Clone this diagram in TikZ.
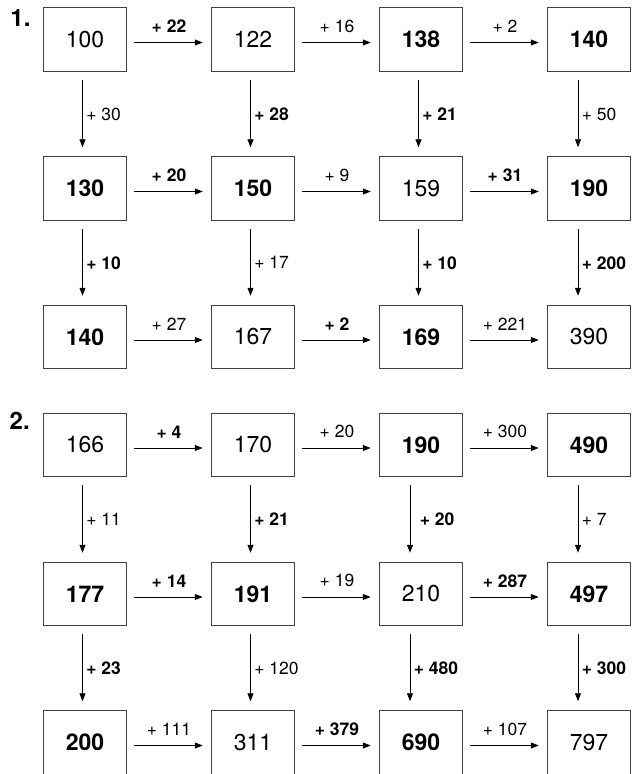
\documentclass[tikz,border=0pt]{standalone}
\usepackage{fontspec}
\setmainfont{TeX Gyre Heros}
\usepackage{tikz}
\usetikzlibrary{arrows.meta}
\tikzset{
  box/.style={draw=black!75, line width=1pt, minimum width=83.5pt, minimum height=63.5pt, inner sep=0pt, font=\fontsize{23}{23}\selectfont},
  bbox/.style={box, font=\fontsize{23}{23}\selectfont\bfseries},
  harr/.style={arrows={-Triangle[length=8pt,width=6pt]}, line width=0.9pt, shorten <=7pt, shorten >=8pt},
  varr/.style={arrows={-Triangle[length=8pt,width=6pt]}, line width=0.9pt, shorten <=8pt, shorten >=9pt},
  lab/.style={font=\fontsize{17.5}{17.5}\selectfont},
  blab/.style={font=\fontsize{17.5}{17.5}\selectfont\bfseries},
}
\begin{document}
\begin{tikzpicture}[x=1pt, y=-1pt]
\useasboundingbox (0,0) rectangle (633,774);
% part 1
\node [font=\fontsize{24}{24}\selectfont\bfseries] (n1) at (20.5,18) {1.};
\node [box] (A11) at (85,39.5) {100};
\node [box] (A12) at (253,39.5) {122};
\node [bbox] (A13) at (421,39.5) {138};
\node [bbox] (A14) at (589,39.5) {140};
\node [bbox] (A21) at (85,188.5) {130};
\node [bbox] (A22) at (253,188.5) {150};
\node [box] (A23) at (421,188.5) {159};
\node [bbox] (A24) at (589,188.5) {190};
\node [bbox] (A31) at (85,337) {140};
\node [box] (A32) at (253,337) {167};
\node [bbox] (A33) at (421,337) {169};
\node [box] (A34) at (589,337) {390};
\draw [harr] ([yshift=-3pt]A11.east) -- ([yshift=-3pt]A12.west) node [midway, above=6pt, blab] {+ 22};
\draw [harr] ([yshift=-3pt]A12.east) -- ([yshift=-3pt]A13.west) node [midway, above=6pt, lab] {+ 16};
\draw [harr] ([yshift=-3pt]A13.east) -- ([yshift=-3pt]A14.west) node [midway, above=6pt, lab] {+ 2};
\draw [harr] ([yshift=-3pt]A21.east) -- ([yshift=-3pt]A22.west) node [midway, above=6pt, blab] {+ 20};
\draw [harr] ([yshift=-3pt]A22.east) -- ([yshift=-3pt]A23.west) node [midway, above=6pt, lab] {+ 9};
\draw [harr] ([yshift=-3pt]A23.east) -- ([yshift=-3pt]A24.west) node [midway, above=6pt, blab] {+ 31};
\draw [harr] ([yshift=-3pt]A31.east) -- ([yshift=-3pt]A32.west) node [midway, above=6pt, lab] {+ 27};
\draw [harr] ([yshift=-3pt]A32.east) -- ([yshift=-3pt]A33.west) node [midway, above=6pt, blab] {+ 2};
\draw [harr] ([yshift=-3pt]A33.east) -- ([yshift=-3pt]A34.west) node [midway, above=6pt, lab] {+ 221};
\draw [varr] ([xshift=-2.5pt]A11.south) -- ([xshift=-2.5pt]A21.north) node [midway, right, lab] {+ 30};
\draw [varr] ([xshift=-2.5pt]A12.south) -- ([xshift=-2.5pt]A22.north) node [midway, right, blab] {+ 28};
\draw [varr] ([xshift=-2.5pt]A13.south) -- ([xshift=-2.5pt]A23.north) node [midway, right, blab] {+ 21};
\draw [varr] ([xshift=-11pt]A14.south) -- ([xshift=-11pt]A24.north) node [midway, right, lab] {+ 50};
\draw [varr] ([xshift=-2.5pt]A21.south) -- ([xshift=-2.5pt]A31.north) node [midway, right, blab] {+ 10};
\draw [varr] ([xshift=-2.5pt]A22.south) -- ([xshift=-2.5pt]A32.north) node [midway, right, lab] {+ 17};
\draw [varr] ([xshift=-2.5pt]A23.south) -- ([xshift=-2.5pt]A33.north) node [midway, right, blab] {+ 10};
\draw [varr] ([xshift=-11pt]A24.south) -- ([xshift=-11pt]A34.north) node [midway, right, blab] {+ 200};
% part 2
\node [font=\fontsize{24}{24}\selectfont\bfseries] (n2) at (19.7,421) {2.};
\node [box] (B11) at (85,445) {166};
\node [box] (B12) at (253,445) {170};
\node [bbox] (B13) at (421,445) {190};
\node [bbox] (B14) at (589,445) {490};
\node [bbox] (B21) at (85,594) {177};
\node [bbox] (B22) at (253,594) {191};
\node [box] (B23) at (421,594) {210};
\node [bbox] (B24) at (589,594) {497};
\node [bbox] (B31) at (85,742.5) {200};
\node [box] (B32) at (253,742.5) {311};
\node [bbox] (B33) at (421,742.5) {690};
\node [box] (B34) at (589,742.5) {797};
\draw [harr] ([yshift=-3pt]B11.east) -- ([yshift=-3pt]B12.west) node [midway, above=6pt, blab] {+ 4};
\draw [harr] ([yshift=-3pt]B12.east) -- ([yshift=-3pt]B13.west) node [midway, above=6pt, lab] {+ 20};
\draw [harr] ([yshift=-3pt]B13.east) -- ([yshift=-3pt]B14.west) node [midway, above=6pt, lab] {+ 300};
\draw [harr] ([yshift=-3pt]B21.east) -- ([yshift=-3pt]B22.west) node [midway, above=6pt, blab] {+ 14};
\draw [harr] ([yshift=-3pt]B22.east) -- ([yshift=-3pt]B23.west) node [midway, above=6pt, lab] {+ 19};
\draw [harr] ([yshift=-3pt]B23.east) -- ([yshift=-3pt]B24.west) node [midway, above=6pt, blab] {+ 287};
\draw [harr] ([yshift=-3pt]B31.east) -- ([yshift=-3pt]B32.west) node [midway, above=6pt, lab] {+ 111};
\draw [harr] ([yshift=-3pt]B32.east) -- ([yshift=-3pt]B33.west) node [midway, above=6pt, blab] {+ 379};
\draw [harr] ([yshift=-3pt]B33.east) -- ([yshift=-3pt]B34.west) node [midway, above=6pt, lab] {+ 107};
\draw [varr] ([xshift=-2.5pt]B11.south) -- ([xshift=-2.5pt]B21.north) node [midway, right, lab] {+ 11};
\draw [varr] ([xshift=-2.5pt]B12.south) -- ([xshift=-2.5pt]B22.north) node [midway, right, blab] {+ 21};
\draw [varr] ([xshift=-11pt]B13.south) -- ([xshift=-11pt]B23.north) node [midway, right=6pt, blab] {+ 20};
\draw [varr] ([xshift=-11pt]B14.south) -- ([xshift=-11pt]B24.north) node [midway, right, lab] {+ 7};
\draw [varr] ([xshift=-2.5pt]B21.south) -- ([xshift=-2.5pt]B31.north) node [midway, right, blab] {+ 23};
\draw [varr] ([xshift=-2.5pt]B22.south) -- ([xshift=-2.5pt]B32.north) node [midway, right, lab] {+ 120};
\draw [varr] ([xshift=-11pt]B23.south) -- ([xshift=-11pt]B33.north) node [midway, right, blab] {+ 480};
\draw [varr] ([xshift=-11pt]B24.south) -- ([xshift=-11pt]B34.north) node [midway, right, blab] {+ 300};
\end{tikzpicture}
\end{document}
